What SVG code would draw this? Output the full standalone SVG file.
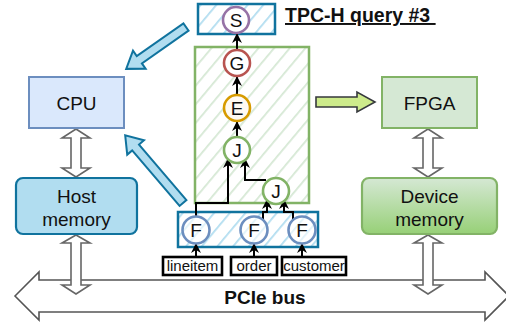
<svg xmlns="http://www.w3.org/2000/svg" width="506" height="324" viewBox="0 0 506 324">
  <style>
    text { font-family: "Liberation Sans", Arial, sans-serif; fill: #111; }
    .lbl { font-size: 19px; text-anchor: middle; }
    .op { font-size: 19px; text-anchor: middle; }
    .tbl { font-size: 15px; text-anchor: middle; }
    .bold { font-weight: bold; }
    .hollow { fill: #fff; stroke: #666; stroke-width: 1.6; stroke-linejoin: miter; }
    .blue-arrow { fill: #b1ddf0; stroke: #10739e; stroke-width: 2; stroke-linejoin: miter; }
    .edge { fill: none; stroke: #000; stroke-width: 2; marker-end: url(#tip); }
    .tblbox { fill: #fff; stroke: #000; stroke-width: 2.6; }
    .op-node { fill: #fff; stroke-width: 2.6; }
  </style>
  <defs>
    <marker id="tip" viewBox="0 0 10 10" refX="9" refY="5" markerWidth="5" markerHeight="5" orient="auto" markerUnits="strokeWidth">
      <path d="M0,0 L10,5 L0,10 L3,5 Z" fill="#000"/>
    </marker>
    <pattern id="hatch-green" width="12" height="12" patternUnits="userSpaceOnUse" patternTransform="rotate(40)">
      <rect width="12" height="12" fill="#fff"/>
      <line x1="0" y1="0" x2="0" y2="12" stroke="#d5e8d4" stroke-width="3.5"/>
    </pattern>
    <pattern id="hatch-blue" width="12" height="12" patternUnits="userSpaceOnUse" patternTransform="rotate(40)">
      <rect width="12" height="12" fill="#fff"/>
      <line x1="0" y1="0" x2="0" y2="12" stroke="#b1ddf0" stroke-width="3.5"/>
    </pattern>
    <linearGradient id="dev-grad" x1="0" y1="0" x2="0" y2="1">
      <stop offset="0" stop-color="#d5e8d4"/>
      <stop offset="1" stop-color="#97d077"/>
    </linearGradient>
  </defs>

  <!-- PCIe bus -->
  <g id="pcie-bus">
    <polygon points="15,296 39,272 39,280 485,280 485,272 509,296 485,320 485,312 39,312 39,320" fill="#fff" stroke="#555" stroke-width="1.6"/>
    <text x="265" y="304" class="lbl bold">PCIe bus</text>
  </g>

  <!-- memory / processor links -->
  <g id="links">
    <polygon class="hollow" points="76,129 90,138 81,138 81,168 90,168 76,177 62,168 71,168 71,138 62,138"/>
    <polygon class="hollow" points="76,235 90,243 81,243 81,285 90,285 76,294 62,285 71,285 71,243 62,243"/>
    <polygon class="hollow" points="428,129 442,138 433,138 433,168 442,168 428,177 414,168 423,168 423,138 414,138"/>
    <polygon class="hollow" points="428,235 442,243 433,243 433,285 442,285 428,294 414,285 423,285 423,243 414,243"/>
  </g>

  <g id="cpu">
    <rect x="29" y="77" width="95" height="51" fill="#dae8fc" stroke="#6c8ebf" stroke-width="2"/>
    <text x="76.5" y="110" class="lbl">CPU</text>
  </g>
  <g id="host-memory">
    <rect x="16" y="178" width="121" height="56" rx="7" fill="#b1ddf0" stroke="#10739e" stroke-width="2.2"/>
    <text x="76.5" y="203" class="lbl">Host</text>
    <text x="76.5" y="226" class="lbl">memory</text>
  </g>
  <g id="fpga">
    <rect x="382" y="77" width="95" height="51" fill="#d5e8d4" stroke="#82b366" stroke-width="2"/>
    <text x="429.5" y="110" class="lbl">FPGA</text>
  </g>
  <g id="device-memory">
    <rect x="362" y="178" width="135" height="56" rx="7" fill="url(#dev-grad)" stroke="#82b366" stroke-width="2.2"/>
    <text x="429.5" y="203" class="lbl">Device</text>
    <text x="429.5" y="226" class="lbl">memory</text>
  </g>

  <!-- offload arrows -->
  <g id="offload-arrows">
    <polygon class="blue-arrow" transform="translate(186,27) rotate(145)" points="0,-4.5 57,-4.5 57,-11 73,0 57,11 57,4.5 0,4.5"/>
    <polygon class="blue-arrow" transform="translate(183,203) rotate(-130.5)" points="0,-4.5 73,-4.5 73,-11 89,0 73,11 73,4.5 0,4.5"/>
    <polygon points="316,97 357,97 357,92 375,102 357,112 357,107 316,107" fill="#cdeb8b" stroke="#36393d" stroke-width="1.6"/>
  </g>

  <!-- query plan regions -->
  <g id="sink-region">
    <rect x="198" y="4" width="77" height="30" fill="url(#hatch-blue)" stroke="#10739e" stroke-width="2.5"/>
  </g>
  <g id="fpga-region">
    <rect x="195" y="47" width="114" height="156" fill="url(#hatch-green)" stroke="#82b366" stroke-width="2.5"/>
  </g>
  <g id="scan-region">
    <rect x="178" y="212" width="140" height="35" fill="url(#hatch-blue)" stroke="#10739e" stroke-width="2.5"/>
  </g>

  <text x="285" y="22" class="bold" font-size="19.5" text-decoration="underline" style="white-space:pre">TPC-H query #3 </text>

  <!-- plan edges -->
  <g id="connectors">
    <line class="edge" x1="237" y1="50" x2="237" y2="34"/>
    <line class="edge" x1="237" y1="95" x2="237" y2="77"/>
    <line class="edge" x1="237" y1="137" x2="237" y2="122"/>
    <polyline class="edge" points="196,217 196,203 228,203 228,159"/>
    <polyline class="edge" points="266,180 245,180 245,159"/>
    <polyline class="edge" points="263,221 263,212 267,212 267,200"/>
    <polyline class="edge" points="293,221 293,212 284,212 284,200"/>
    <line class="edge" x1="196" y1="257" x2="196" y2="244"/>
    <line class="edge" x1="254" y1="257" x2="254" y2="244"/>
    <line class="edge" x1="302" y1="257" x2="302" y2="244"/>
  </g>

  <!-- operators -->
  <g id="op-s"><circle class="op-node" cx="236" cy="20" r="13" stroke="#9673a6"/><text x="236" y="27" class="op">S</text></g>
  <g id="op-g"><circle class="op-node" cx="237" cy="63" r="13" stroke="#b85450"/><text x="237" y="70" class="op">G</text></g>
  <g id="op-e"><circle class="op-node" cx="237" cy="108" r="13" stroke="#d79b00" style="fill:#fffaf3"/><text x="237" y="115" class="op">E</text></g>
  <g id="op-j1"><circle class="op-node" cx="237" cy="150" r="13" stroke="#82b366"/><text x="237" y="157" class="op">J</text></g>
  <g id="op-j2"><circle class="op-node" cx="276" cy="191" r="13" stroke="#82b366"/><text x="276" y="198" class="op">J</text></g>
  <g id="op-f1"><circle class="op-node" cx="196" cy="230" r="13.5" stroke="#6c8ebf" style="fill:#fff;fill-opacity:0.6"/><text x="196" y="237" class="op">F</text></g>
  <g id="op-f2"><circle class="op-node" cx="254" cy="230" r="13.5" stroke="#6c8ebf" style="fill:#fff;fill-opacity:0.6"/><text x="254" y="237" class="op">F</text></g>
  <g id="op-f3"><circle class="op-node" cx="302" cy="230" r="13.5" stroke="#6c8ebf" style="fill:#fff;fill-opacity:0.6"/><text x="302" y="237" class="op">F</text></g>

  <!-- input tables -->
  <g id="tbl-lineitem"><rect class="tblbox" x="163" y="257" width="59" height="18"/><text x="192.5" y="271" class="tbl">lineitem</text></g>
  <g id="tbl-order"><rect class="tblbox" x="231" y="257" width="46" height="18"/><text x="254" y="271" class="tbl">order</text></g>
  <g id="tbl-customer"><rect class="tblbox" x="282" y="257" width="64" height="18"/><text x="314" y="271" class="tbl">customer</text></g>
</svg>
